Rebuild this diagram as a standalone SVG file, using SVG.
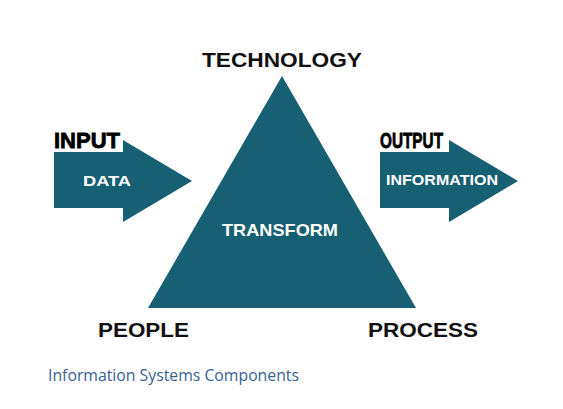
<svg xmlns="http://www.w3.org/2000/svg" width="563" height="409" viewBox="0 0 563 409">
<style>
.shape{fill:#175f73}
.lbl{font-family:"Liberation Sans",Arial,sans-serif;font-weight:bold;fill:#111}
.inner{font-family:"Liberation Sans",Arial,sans-serif;font-weight:bold;fill:#fff}
.cond{font-family:"Liberation Sans",Arial,sans-serif;font-weight:900;fill:#000;stroke:#000;stroke-width:0.8}
.cap{font-family:"Open Sans","Noto Sans",sans-serif;fill:#3a5f93}
</style>
<rect width="563" height="409" fill="#fff"/>
<g id="triangle">
<polygon class="shape" points="282,76 416,308 148,308"/>
<text class="inner" x="280" y="236" font-size="17" text-anchor="middle" textLength="116" lengthAdjust="spacingAndGlyphs">TRANSFORM</text>
</g>
<g id="technology"><text class="lbl" x="282" y="67" font-size="21" text-anchor="middle" textLength="160" lengthAdjust="spacingAndGlyphs">TECHNOLOGY</text></g>
<g id="people"><text class="lbl" x="98" y="337" font-size="21" textLength="91" lengthAdjust="spacingAndGlyphs">PEOPLE</text></g>
<g id="process"><text class="lbl" x="368" y="337" font-size="21" textLength="110" lengthAdjust="spacingAndGlyphs">PROCESS</text></g>
<g id="input">
<polygon class="shape" points="54,152 123,152 123,140 192,181 123,222 123,208 54,208"/>
<text class="cond" x="54" y="148" font-size="22" textLength="66" lengthAdjust="spacingAndGlyphs">INPUT</text>
<text class="inner" x="83" y="186" font-size="15" textLength="48" lengthAdjust="spacingAndGlyphs">DATA</text>
</g>
<g id="output">
<polygon class="shape" points="380,152 449,152 449,140 518,181 449,222 449,208 380,208"/>
<text class="cond" x="380" y="148" font-size="22" textLength="63" lengthAdjust="spacingAndGlyphs">OUTPUT</text>
<text class="inner" x="386" y="185" font-size="14" textLength="112" lengthAdjust="spacingAndGlyphs">INFORMATION</text>
</g>
<g id="connectors"/>
<text class="cap" x="48" y="381" font-size="16" textLength="251" lengthAdjust="spacingAndGlyphs">Information Systems Components</text>
</svg>
